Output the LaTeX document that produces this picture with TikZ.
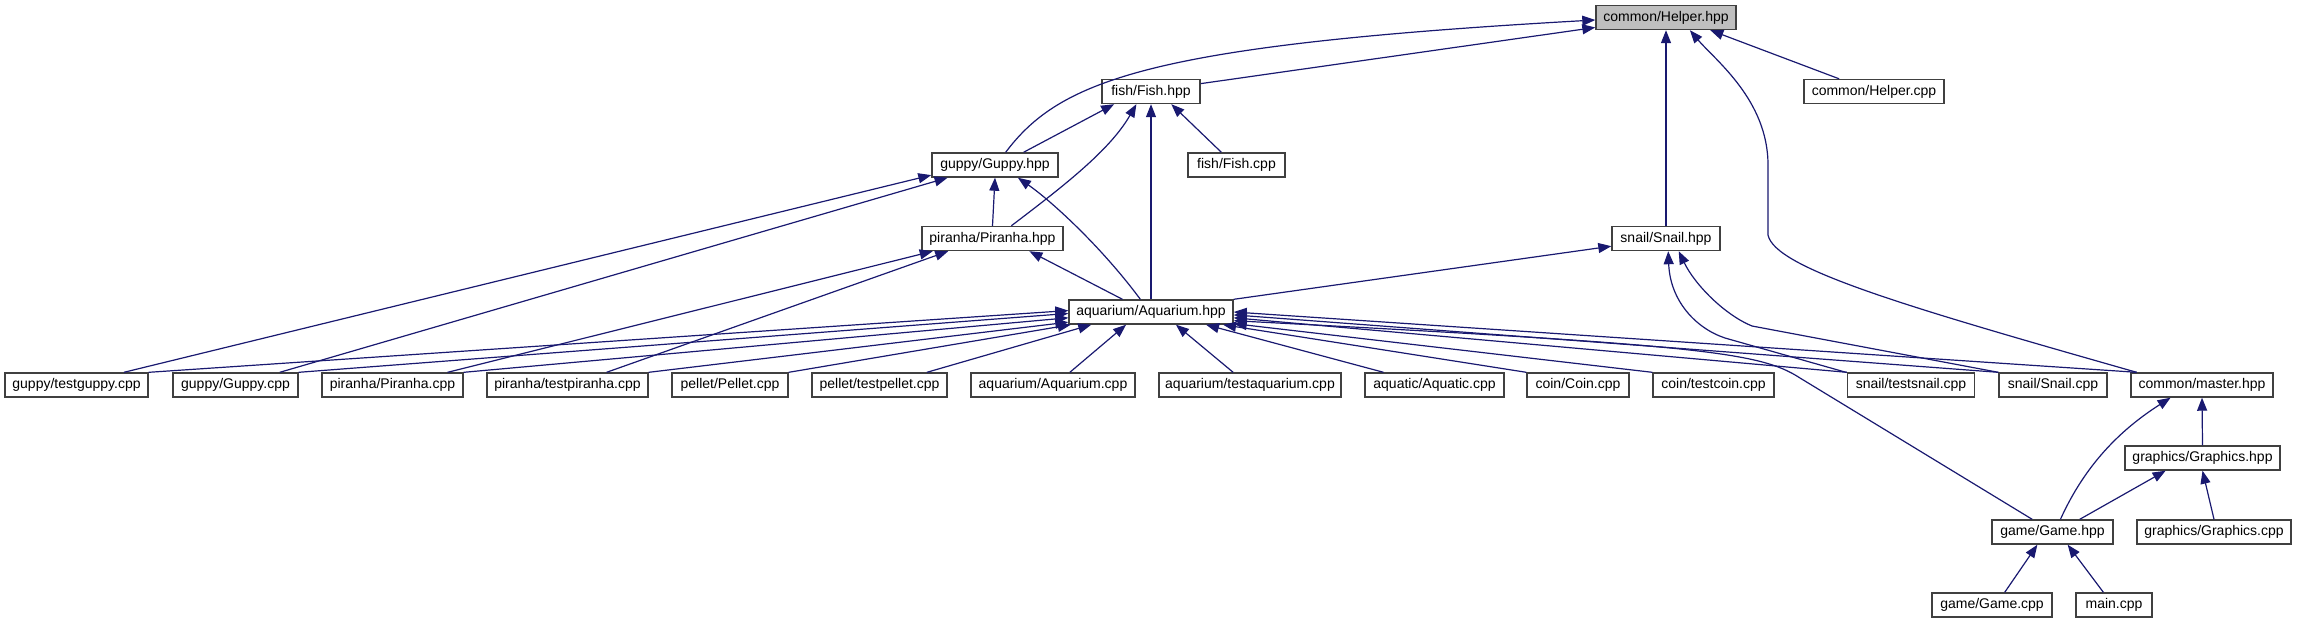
\documentclass[tikz,border=0pt]{standalone}
\usepackage{fontspec}
\setmainfont{Liberation Sans}
\usepackage{tikz}
\usetikzlibrary{arrows.meta}
\definecolor{edgeblue}{HTML}{191970}
\definecolor{boxline}{HTML}{404040}
\definecolor{boxgray}{HTML}{BFBFBF}

\begin{document}
\begin{tikzpicture}[x=0.5pt, y=-0.5pt,
    file/.style={draw=boxline, line width=0.7pt, fill=white, minimum height=12pt,
      inner sep=0pt, font=\fontsize{7}{8}\selectfont},
    dep/.style={draw=edgeblue, line width=0.6pt, -{Triangle[length=6.5pt,width=5pt]}}]
    \useasboundingbox (0,0) rectangle (2297,623);

    % Cabeceras de arriba
    \node[file, fill=boxgray, minimum width=70pt] (helperhpp) at (1666,17.5) {common/Helper.hpp};
    \node[file, minimum width=49pt] (fishhpp) at (1151,91.5) {fish/Fish.hpp};
    \node[file, minimum width=70pt] (helpercpp) at (1874,91.5) {common/Helper.cpp};
    \node[file, minimum width=63pt] (guppyhpp) at (995,165) {guppy/Guppy.hpp};
    \node[file, minimum width=48.5pt] (fishcpp) at (1236.5,165) {fish/Fish.cpp};
    \node[file, minimum width=70.5pt] (piranhahpp) at (992.5,238.5) {piranha/Piranha.hpp};
    \node[file, minimum width=54pt] (snailhpp) at (1666,238.5) {snail/Snail.hpp};
    \node[file, minimum width=82pt] (aquariumhpp) at (1151,312) {aquarium/Aquarium.hpp};

    % Fila de ficheros
    \foreach \x/\w/\name/\txt in {
        76.5/71.5pt/tguppy/{guppy/testguppy.cpp},
        235.5/62.5pt/guppycpp/{guppy/Guppy.cpp},
        392.5/70.5pt/piranhacpp/{piranha/Piranha.cpp},
        567.5/80.5pt/tpiranha/{piranha/testpiranha.cpp},
        730/58pt/pelletcpp/{pellet/Pellet.cpp},
        879.5/67.5pt/tpellet/{pellet/testpellet.cpp},
        1053/82pt/aquariumcpp/{aquarium/Aquarium.cpp},
        1250/91pt/taquarium/{aquarium/testaquarium.cpp},
        1434.5/69.5pt/aquaticcpp/{aquatic/Aquatic.cpp},
        1578/51pt/coincpp/{coin/Coin.cpp},
        1713.5/60.5pt/tcoin/{coin/testcoin.cpp},
        1911/63.5pt/tsnail/{snail/testsnail.cpp},
        2053/54pt/snailcpp/{snail/Snail.cpp},
        2202/71pt/masterhpp/{common/master.hpp}
    } {
        \node[file, minimum width=\w] (\name) at (\x,385) {\txt};
    }

    % Parte de abajo
    \node[file, minimum width=77.5pt] (graphicshpp) at (2202.5,458) {graphics/Graphics.hpp};
    \node[file, minimum width=60.5pt] (gamehpp) at (2052.5,532) {game/Game.hpp};
    \node[file, minimum width=77pt] (graphicscpp) at (2214,532) {graphics/Graphics.cpp};
    \node[file, minimum width=60pt] (gamecpp) at (1992,605) {game/Game.cpp};
    \node[file, minimum width=38pt] (maincpp) at (2114,605) {main.cpp};

    % Hacia Helper.hpp
    \draw[dep] (fishhpp.9) -- (helperhpp.188);
    \draw[dep] (guppyhpp.50) .. controls (1060,80) and (1150,45) .. (helperhpp.182);
    \draw[dep] (snailhpp.north) -- (helperhpp.south);
    \draw[dep] (helpercpp.160) -- (helperhpp.344);
    \draw[dep] (masterhpp.169) .. controls (1900,305) and (1775,268) .. (1768,235)
        -- (1768,165) .. controls (1768,100) and (1715,60) .. (helperhpp.332);

    % Hacia Fish.hpp
    \draw[dep] (guppyhpp.24) -- (fishhpp.199);
    \draw[dep] (piranhahpp.34) .. controls (1065,185) and (1110,150) .. (fishhpp.221);
    \draw[dep] (aquariumhpp.north) -- (fishhpp.south);
    \draw[dep] (fishcpp.140) -- (fishhpp.328);

    % Hacia Guppy.hpp y Piranha.hpp
    \draw[dep] (piranhahpp.north) -- (guppyhpp.south);
    \draw[dep] (aquariumhpp.130) .. controls (1100,245) and (1050,200) .. (guppyhpp.331);
    \draw[dep] (tguppy.15) -- (guppyhpp.189);
    \draw[dep] (guppycpp.16) -- (guppyhpp.195);
    \draw[dep] (piranhacpp.13) -- (piranhahpp.192);
    \draw[dep] (tpiranha.18) -- (piranhahpp.196);
    \draw[dep] (aquariumhpp.156) -- (piranhahpp.341);

    % Hacia Snail.hpp
    \draw[dep] (aquariumhpp.north east) -- (snailhpp.188);
    \draw[dep] (tsnail.169) -- (1725,338) .. controls (1695,328) and (1670,300) .. (snailhpp.280);
    \draw[dep] (snailcpp.north west) -- (1752,326) .. controls (1725,315) and (1695,285) .. (snailhpp.315);

    % Hacia Aquarium.hpp
    \foreach \src/\a/\b in {
        tguppy/north east/179, guppycpp/north east/181, piranhacpp/north east/184,
        tpiranha/north east/187, pelletcpp/north east/189, tpellet/15/192,
        aquariumcpp/37/207, taquarium/143/333, aquaticcpp/166/347,
        coincpp/north west/350, tcoin/north west/352, tsnail/north west/356,
        snailcpp/north west/358, masterhpp/169/0
    } {
        \draw[dep] (\src.\a) -- (aquariumhpp.\b);
    }
    \draw[dep] (gamehpp.148) -- (1800,378) .. controls (1760,352) and (1700,345) .. (aquariumhpp.354);

    % Juego y graficos
    \draw[dep] (gamehpp.58) .. controls (2085,465) and (2120,430) .. (masterhpp.202);
    \draw[dep] (gamehpp.25) -- (graphicshpp.199);
    \draw[dep] (graphicscpp.north) -- (graphicshpp.south);
    \draw[dep] (graphicshpp.north) -- (masterhpp.south);
    \draw[dep] (gamecpp.45) -- (gamehpp.220);
    \draw[dep] (maincpp.130) -- (gamehpp.320);

\end{tikzpicture}
\end{document}
